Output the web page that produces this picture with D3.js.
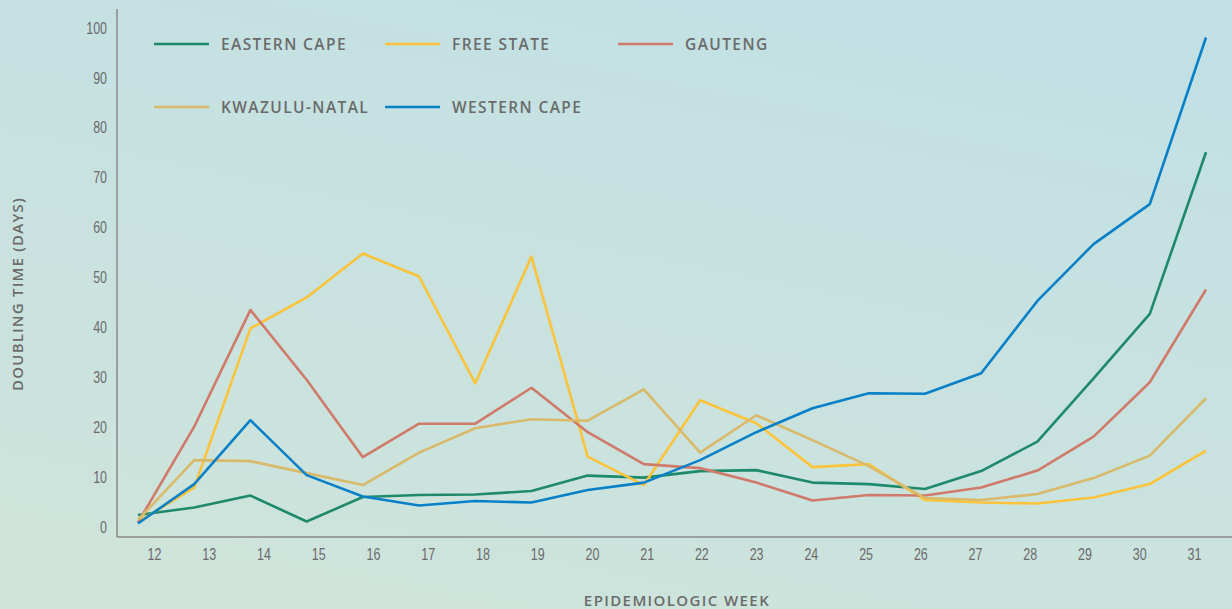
<!DOCTYPE html>
<html>
<head>
<meta charset="utf-8">
<script src="https://cdn.jsdelivr.net/npm/d3@7"></script>
<style>
  body { margin: 0; overflow: hidden; }
  svg { display: block; }
</style>
</head>
<body>
<div id="chart"></div>
<script>
// weeks and doubling time per province
var weeks = [12,13,14,15,16,17,18,19,20,21,22,23,24,25,26,27,28,29,30,31];
var easternCape  = [2.4,3.9,6.3,1.1,6.0,6.4,6.5,7.2,10.3,9.9,11.2,11.4,8.9,8.6,7.6,11.2,17.1,29.8,42.7,75.1];
var freeState    = [1.0,7.9,39.8,46.0,54.8,50.2,28.8,54.2,14.1,8.4,25.4,20.8,12.0,12.6,5.4,4.9,4.7,5.9,8.6,15.3];
var gauteng      = [0.9,20.1,43.5,29.5,14.0,20.7,20.7,27.9,19.0,12.6,11.8,8.9,5.3,6.4,6.3,7.9,11.3,18.1,29.0,47.6];
var kwazuluNatal = [1.4,13.4,13.2,10.8,8.4,14.9,19.8,21.6,21.3,27.6,14.9,22.4,17.4,12.2,5.8,5.4,6.6,9.8,14.3,25.8];
var westernCape  = [0.7,8.6,21.4,10.4,6.1,4.3,5.2,4.9,7.4,8.9,13.4,19.0,23.8,26.8,26.7,30.8,45.3,56.7,64.7,98.1];
var yTicks = [0,10,20,30,40,50,60,70,80,90,100];

var series = [
  {name: "EASTERN CAPE", values: easternCape, color: "#1f8a6b"},
  {name: "FREE STATE", values: freeState, color: "#fdc43b"},
  {name: "GAUTENG", values: gauteng, color: "#cf7a6a"},
  {name: "KWAZULU-NATAL", values: kwazuluNatal, color: "#d9b96a"},
  {name: "WESTERN CAPE", values: westernCape, color: "#0780c7"}
];

var W = 1232, H = 609;
var svg = d3.select("#chart").append("svg")
  .attr("width", W).attr("height", H);

// background gradient
var defs = svg.append("defs");
var grad = defs.append("linearGradient").attr("id", "bg")
  .attr("x1", "70%").attr("y1", "0%").attr("x2", "30%").attr("y2", "100%");
grad.append("stop").attr("offset", "0%").attr("stop-color", "#c2e0e4");
grad.append("stop").attr("offset", "100%").attr("stop-color", "#cee4db");
svg.append("rect").attr("width", W).attr("height", H).attr("fill", "url(#bg)");

var textColor = "#6b6b6b";
var axisColor = "#8a8a8a";
var titleFont = "'Open Sans', sans-serif";

// scales
var y = d3.scaleLinear().domain([0, 100]).range([527, 28]);
var xLine = d3.scalePoint().domain(weeks).range([138, 1206]);
var xTick = d3.scalePoint().domain(weeks).range([154, 1194]);

// axes
var xAxis = svg.append("g")
  .attr("transform", "translate(0,537)")
  .call(d3.axisBottom(xTick).tickSize(0).tickPadding(12));
xAxis.select(".domain").remove();
svg.append("line")
  .attr("x1", 117).attr("x2", W).attr("y1", 537).attr("y2", 537)
  .attr("stroke", axisColor).attr("stroke-width", 1.5);

var yAxis = svg.append("g")
  .attr("transform", "translate(107,0)")
  .call(d3.axisLeft(y).tickValues(yTicks).tickSize(0).tickPadding(0));
yAxis.select(".domain").remove();
svg.append("line")
  .attr("x1", 117).attr("x2", 117).attr("y1", 9).attr("y2", 537)
  .attr("stroke", axisColor).attr("stroke-width", 1.5);

// narrow tick labels
svg.selectAll(".tick text")
  .style("font-family", "'Liberation Sans', Arial, sans-serif")
  .style("font-size", "16px")
  .attr("transform", "scale(0.78,1)")
  .attr("fill", textColor);

// axis titles
svg.append("text")
  .attr("transform", "translate(23,294) rotate(-90)")
  .attr("text-anchor", "middle")
  .style("font-family", titleFont)
  .style("font-weight", 600)
  .style("font-size", "15px")
  .style("letter-spacing", "1.2px")
  .attr("fill", textColor)
  .text("DOUBLING TIME (DAYS)");

svg.append("text")
  .attr("x", 677).attr("y", 606)
  .attr("text-anchor", "middle")
  .style("font-family", titleFont)
  .style("font-weight", 600)
  .style("font-size", "15px")
  .style("letter-spacing", "1.4px")
  .attr("fill", textColor)
  .text("EPIDEMIOLOGIC WEEK");

// lines
var line = d3.line()
  .x(function(d, i) { return xLine(weeks[i]); })
  .y(function(d) { return y(d); });

svg.selectAll(".series")
  .data(series)
  .enter().append("path")
    .attr("class", "series")
    .attr("fill", "none")
    .attr("stroke", function(d) { return d.color; })
    .attr("stroke-width", 2.6)
    .attr("stroke-linejoin", "round")
    .attr("d", function(d) { return line(d.values); });

// legend
var legendPos = [[154, 44], [385, 44], [618, 44], [154, 107], [385, 107]];
var legend = svg.selectAll(".legend")
  .data(series)
  .enter().append("g")
    .attr("class", "legend")
    .attr("transform", function(d, i) { return "translate(" + legendPos[i][0] + "," + legendPos[i][1] + ")"; });
legend.append("line")
  .attr("x1", 0).attr("x2", 55)
  .attr("stroke", function(d) { return d.color; })
  .attr("stroke-width", 2.6);
legend.append("text")
  .attr("x", 67).attr("y", 6)
  .style("font-family", titleFont)
  .style("font-weight", 600)
  .style("font-size", "15.5px")
  .style("letter-spacing", "1.4px")
  .attr("fill", textColor)
  .text(function(d) { return d.name; });
</script>
</body>
</html>
